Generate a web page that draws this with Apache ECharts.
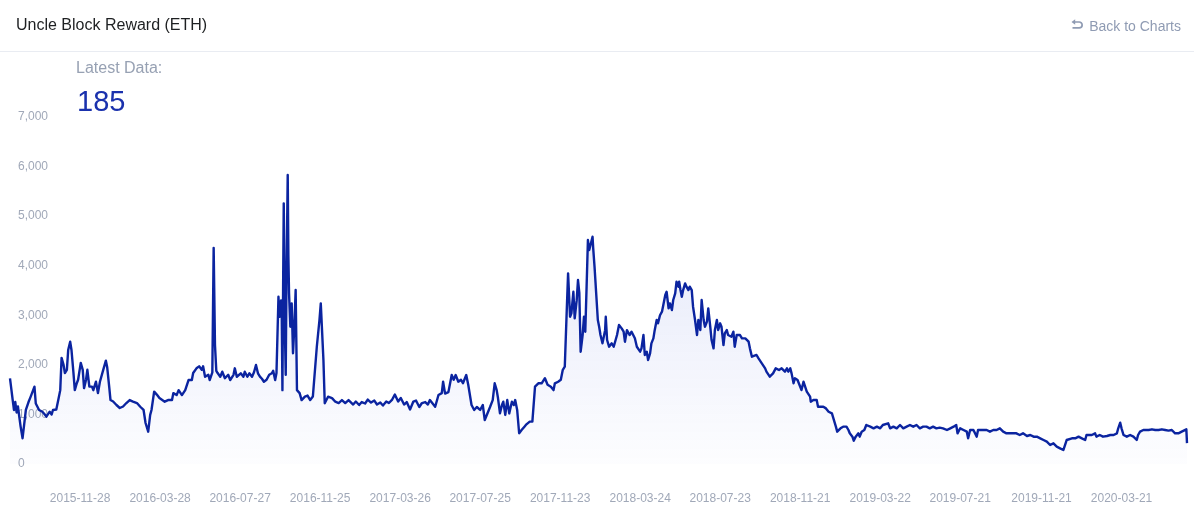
<!DOCTYPE html>
<html>
<head>
<meta charset="utf-8">
<script src="https://cdn.jsdelivr.net/npm/echarts@6/dist/echarts.min.js"></script>
<style>
  html, body { margin: 0; padding: 0; background: #fff; overflow: hidden; }
  body { width: 1194px; height: 517px; position: relative; font-family: "Liberation Sans", Arial, sans-serif; }
  #chart { position: absolute; left: 0; top: 0; width: 1194px; height: 517px; }
  .title { position: absolute; left: 16px; top: 15px; font-size: 16px; line-height: 20px; color: #1e2022; white-space: nowrap; }
  .back { position: absolute; right: 13px; top: 17px; font-size: 14px; line-height: 18px; color: #8f9bb3; white-space: nowrap; }
  .back svg { position: absolute; left: -18px; top: 2px; }
  .sep { position: absolute; left: 0; top: 51px; width: 1194px; height: 1px; background: #e9ecf2; }
  .latest { position: absolute; left: 76px; top: 58px; font-size: 16px; line-height: 20px; color: #97a1b3; white-space: nowrap; z-index: 2; }
  .value { position: absolute; left: 77px; top: 87px; font-size: 29px; line-height: 29px; color: #1a31ad; white-space: nowrap; z-index: 2; }
</style>
</head>
<body>
<div id="chart"></div>
<div class="title">Uncle Block Reward (ETH)</div>
<div class="back"><svg width="13" height="11" viewBox="0 0 13 11"><path d="M0.5 3 L4.2 0.3 L4.2 5.7 Z" fill="#8f9bb3"/><path d="M3.5 3 H8.2 A2.9 2.9 0 0 1 8.2 8.9 H1.5" stroke="#8f9bb3" stroke-width="1.7" fill="none"/></svg>Back to Charts</div>
<div class="sep"></div>
<div class="latest">Latest Data:</div>
<div class="value">185</div>
<script>
// ---- data ----
const START_DATE = '2015-08-14';           // first day of the series
// day offsets from START_DATE of each sample
const dayOffset = [
0,4,6,8,10,12,14,16,19,21,24,28,31,33,35,37,39,42,44,47,49,52,55,58,60,63,65,70,73,76,
78,81,83,86,88,91,93,96,98,101,103,107,110,112,115,117,120,124,126,130,133,136,139,141,145,147,150,152,156,161,
166,171,176,181,186,192,197,202,205,209,212,214,218,222,226,229,234,239,245,247,252,255,260,265,270,275,277,282,286,290,
292,295,297,300,302,306,308,310,312,314,318,321,325,330,333,338,340,343,349,353,355,359,362,366,369,372,375,378,381,384,
388,392,396,398,401,403,406,407,408,410,411,412,413,414,415,416,417,418,420,421,422,424,426,428,430,432,434,438,441,446,
450,454,458,461,464,468,470,472,474,476,481,487,492,497,502,507,512,514,519,523,528,532,537,541,546,551,555,560,564,569,
573,578,582,587,591,596,600,605,610,614,619,623,628,632,635,638,643,648,653,655,658,663,668,671,674,678,682,685,690,693,
698,702,706,711,715,718,722,726,730,733,736,738,741,744,746,749,752,755,759,762,764,767,770,774,778,781,786,790,794,797,
799,804,809,813,818,822,824,829,833,836,839,842,844,847,849,852,854,857,859,861,863,866,868,870,872,874,876,878,881,882,
884,886,889,891,893,896,900,901,903,906,910,913,916,918,921,925,928,930,933,937,940,943,945,948,950,953,955,958,960,963,
965,968,970,973,975,978,980,983,986,988,991,993,996,998,1001,1003,1006,1008,1011,1012,1014,1016,1018,1021,1023,1026,1028,1031,1033,1036,
1039,1041,1044,1046,1049,1051,1054,1056,1059,1061,1064,1066,1069,1071,1074,1076,1079,1081,1084,1086,1089,1091,1094,1096,1099,1101,1104,1107,1109,1112,
1114,1117,1119,1122,1125,1129,1132,1134,1137,1139,1142,1144,1149,1154,1158,1163,1167,1172,1175,1177,1180,1182,1185,1187,1191,1194,1197,1200,1202,1205,
1207,1210,1211,1215,1220,1222,1225,1230,1234,1238,1243,1246,1249,1251,1254,1256,1260,1265,1268,1270,1274,1276,1279,1283,1285,1288,1292,1295,1297,1301,
1306,1311,1316,1320,1323,1328,1331,1336,1341,1346,1351,1356,1361,1366,1371,1376,1381,1386,1391,1396,1401,1406,1411,1417,1422,1427,1431,1433,1437,1442,
1447,1449,1452,1457,1462,1464,1467,1472,1477,1482,1487,1492,1497,1502,1507,1512,1517,1522,1527,1532,1538,1543,1548,1553,1558,1563,1568,1573,1578,1583,
1588,1593,1596,1598,1601,1606,1611,1616,1621,1626,1628,1631,1636,1641,1643,1648,1653,1659,1664,1669,1674,1676,1679,1681,1684,1689,1694,1699,1704,1706,
1709,1714,1717,1722,1727,1732,1737,1742,1747,1752,1757,1762,1767,1772,1779,1780
];
// uncle block reward (ETH) of each sample
const reward = [
1728,1300,1090,1250,1040,1160,1180,760,520,750,1090,1250,1350,1330,1490,1560,1220,1250,1090,1120,1055,1010,955,920,1055,1000,1090,1100,1290,1490,
2140,2000,1835,1900,2300,2467,2300,1835,1490,1630,1700,2040,1900,1530,1700,1900,1560,1560,1490,1660,1430,1660,1700,1900,2085,1950,1560,1290,1260,1190,
1130,1160,1230,1290,1260,1230,1155,1090,827,652,990,1090,1460,1400,1330,1360,1257,1290,1290,1430,1390,1490,1390,1490,1694,1694,1835,1930,1970,1900,
1970,1760,1728,1800,1694,1850,4360,2400,1880,1835,1760,1862,1730,1800,1694,1800,1930,1760,1830,1760,1862,1760,1830,1760,1850,1997,1830,1762,1720,1660,
1700,1800,1830,1880,1694,1835,3375,3100,2970,3300,3000,1490,3500,5258,3800,2500,1800,3577,5829,4200,3443,2770,3240,2233,2770,3510,1490,1430,1290,1360,
1380,1290,1360,1390,2365,2905,3240,3200,2100,1225,1358,1330,1257,1230,1290,1230,1290,1250,1200,1260,1190,1250,1220,1300,1240,1280,1200,1240,1180,1260,
1230,1300,1400,1260,1330,1200,1250,1100,1260,1280,1150,1230,1250,1200,1290,1250,1155,1392,1430,1660,1420,1450,1795,1700,1795,1660,1700,1630,1795,1600,
1190,1090,1150,1090,1190,888,1020,1150,1290,1628,1490,1330,1022,1190,1257,990,1290,1020,1257,1190,1290,1090,620,690,753,800,855,855,1560,1600,
1628,1628,1730,1600,1560,1490,1628,1660,1700,1900,1963,3106,3846,2970,3040,3475,2938,3300,3711,3450,2265,2600,2970,2669,3577,4518,4316,4316,4585,4350,
3980,3980,2905,2770,2602,2434,2700,2970,2501,2366,2434,2366,2333,2602,2804,2736,2669,2467,2700,2602,2669,2635,2535,2366,2333,2266,2333,2602,2199,2266,
2098,2232,2434,2535,2700,2905,2838,3000,3073,3106,3409,3475,3140,3240,3106,3308,3443,3677,3577,3677,3509,3375,3509,3644,3577,3509,3577,3509,3173,2905,
2602,2905,2703,3308,2905,2770,2871,3140,2770,2501,2333,2703,2905,2703,2838,2770,2400,2635,2703,2602,2602,2568,2669,2366,2602,2568,2602,2535,2535,2535,
2501,2467,2333,2164,2130,2199,2130,2098,2031,2064,1930,1863,1761,1828,1930,1896,1930,1863,1930,1863,1930,1828,1628,1728,1694,1700,1492,1660,1628,1460,
1426,1358,1257,1290,1290,1156,1156,1156,1122,1055,1022,988,753,652,619,720,753,753,686,619,552,471,552,619,552,652,686,787,821,753,
720,753,720,787,753,821,720,753,720,787,720,753,787,753,787,720,753,753,720,753,720,733,720,686,720,753,787,619,720,686,
652,518,686,686,552,686,652,686,686,652,686,686,720,652,619,619,619,619,585,619,565,585,551,551,518,484,451,383,417,350,
316,282,296,484,518,518,518,551,518,484,585,551,585,619,551,585,551,565,585,585,619,720,834,720,585,551,585,551,484,585,
652,686,720,686,700,686,686,700,686,673,686,619,619,652,699,420
];
// x-axis tick labels and y-axis range
const xTickLabels = ['2015-11-28','2016-03-28','2016-07-27','2016-11-25','2017-03-26','2017-07-25','2017-11-23',
  '2018-03-24','2018-07-23','2018-11-21','2019-03-22','2019-07-21','2019-11-21','2020-03-21'];
const yMin = 0, yMax = 7000, yStep = 1000;

// ---- chart ----
const DAY = 86400000;
const startMs = Date.parse(START_DATE + 'T00:00:00Z');
const toOffset = s => Math.round((Date.parse(s + 'T00:00:00Z') - startMs) / DAY);
const tickOffsets = xTickLabels.map(toOffset);
const offsetToLabel = {};
tickOffsets.forEach((o, i) => { offsetToLabel[o] = xTickLabels[i]; });
const seriesData = dayOffset.map((d, i) => [d, reward[i]]);

const chart = echarts.init(document.getElementById('chart'), null, { renderer: 'canvas' });
const labelColor = '#a0a8b8';
chart.setOption({
  animation: false,
  backgroundColor: 'transparent',
  grid: { left: 10, right: 7, top: 117, bottom: 53, containLabel: false, outerBoundsMode: 'none' },
  xAxis: {
    type: 'value',
    min: 0,
    max: dayOffset[dayOffset.length - 1],
    axisLine: { show: false },
    axisTick: { show: false },
    splitLine: { show: false },
    axisLabel: {
      customValues: tickOffsets,
      formatter: v => offsetToLabel[Math.round(v)] || '',
      color: labelColor,
      fontSize: 12,
      fontFamily: 'Liberation Sans, Arial, sans-serif',
      margin: 29
    }
  },
  yAxis: {
    type: 'value',
    min: yMin,
    max: yMax,
    interval: yStep,
    axisLine: { show: false },
    axisTick: { show: false },
    splitLine: { show: false },
    axisLabel: {
      inside: true,
      margin: 8,
      color: labelColor,
      fontSize: 12,
      fontFamily: 'Liberation Sans, Arial, sans-serif',
      formatter: v => v.toLocaleString('en-US')
    }
  },
  series: [{
    type: 'line',
    data: seriesData,
    showSymbol: false,
    symbol: 'none',
    smooth: false,
    lineStyle: { color: '#0b24a0', width: 2.4, join: 'round' },
    itemStyle: { color: '#0b24a0' },
    areaStyle: {
      color: new echarts.graphic.LinearGradient(0, 0, 0, 1, [
        { offset: 0, color: 'rgba(40,70,210,0.2)' },
        { offset: 1, color: 'rgba(40,70,210,0.015)' }
      ])
    }
  }]
});
</script>
</body>
</html>
